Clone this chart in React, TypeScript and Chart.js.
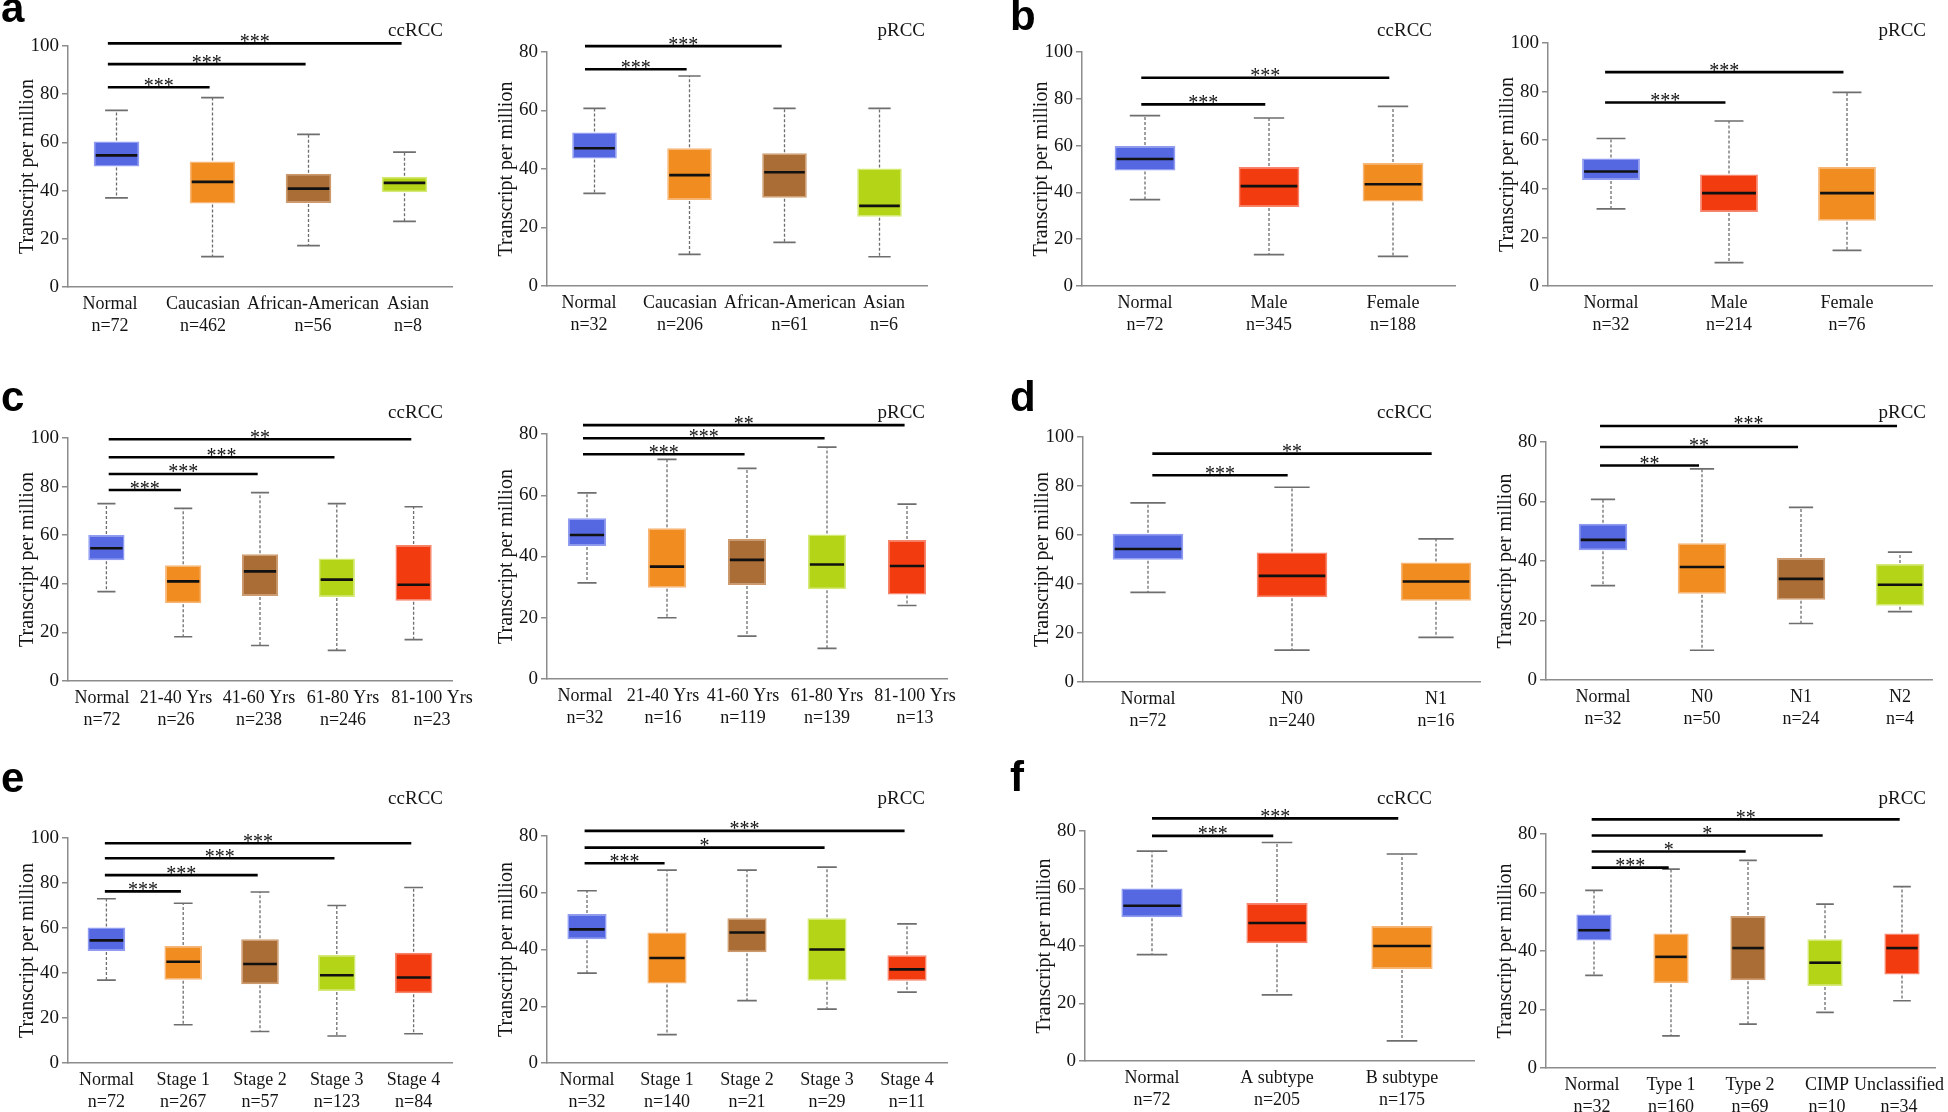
import React, { useEffect, useRef } from "react";
import { Chart, registerables } from "chart.js";
Chart.register(...registerables);

const SERIF = "'Liberation Serif', 'Times New Roman', Times, serif";
const SANS = "'Liberation Sans', Arial, Helvetica, sans-serif";
const AXIS = "#8c8c8c";
const INK = "#141414";
Chart.defaults.font.family = SERIF;

const FILL: any = { blue: "#5568e2", orange: "#f08c20", brown: "#ab6d36", green: "#b3d417", red: "#f23b0f" };
const EDGE: any = { blue: "#909cf2", orange: "#f7b576", brown: "#cf9a6b", green: "#d4ea74", red: "#f8846c" };

// ---------- data: [lower whisker, Q1, median, Q3, upper whisker] ----------
// a: race
const raceCats = ["Normal", "Caucasian", "African-American", "Asian"];
const raceCcN = [72, 462, 56, 8];
const raceCcBoxes = [[37, 50, 54.6, 60.4, 73.3], [12.6, 34.6, 43.6, 52.1, 78.6], [17.2, 34.9, 40.8, 47, 63.3], [27.2, 39.3, 43.2, 45.7, 56]];
const raceCcSig: [number, string][] = [[3, "***"], [2, "***"], [1, "***"]];
const racePN = [32, 206, 61, 6];
const racePBoxes = [[31.7, 43.6, 47.1, 52.5, 60.7], [10.8, 29.4, 37.9, 47.1, 71.8], [14.9, 30.2, 38.9, 45.4, 60.7], [10, 23.7, 27.4, 40.2, 60.7]];
const racePSig: [number, string][] = [[2, "***"], [1, "***"]];

// b: gender
const sexCats = ["Normal", "Male", "Female"];
const sexCcN = [72, 345, 188];
const sexCcBoxes = [[36.9, 49.4, 54.3, 59.8, 72.8], [13.4, 33.8, 42.7, 50.9, 71.8], [12.7, 36.1, 43.5, 52.6, 76.8]];
const sexCcSig: [number, string][] = [[2, "***"], [1, "***"]];
const sexPN = [32, 214, 76];
const sexPBoxes = [[31.7, 43.6, 47.1, 52.5, 60.7], [9.6, 30.5, 38.2, 45.9, 67.9], [14.7, 26.9, 38.2, 49, 79.7]];
const sexPSig: [number, string][] = [[2, "***"], [1, "***"]];

// c: age
const ageCats = ["Normal", "21-40 Yrs", "41-60 Yrs", "61-80 Yrs", "81-100 Yrs"];
const ageCcN = [72, 26, 238, 246, 23];
const ageCcBoxes = [[36.8, 49.7, 54.6, 60.1, 73], [18.2, 32, 41, 47.6, 71], [14.6, 35, 45.1, 52.2, 77.5], [12.6, 34.6, 41.7, 50.4, 73], [17, 33, 39.6, 56, 71.7]];
const ageCcSig: [number, string][] = [[4, "**"], [3, "***"], [2, "***"], [1, "***"]];
const agePN = [32, 16, 119, 139, 13];
const agePBoxes = [[31.4, 43.4, 47, 52.5, 60.8], [20, 29.8, 36.7, 49.2, 71.7], [14, 30.7, 38.9, 45.7, 68.8], [10, 29.3, 37.4, 47.2, 75.7], [24, 27.6, 36.9, 45.4, 57.1]];
const agePSig: [number, string][] = [[4, "**"], [3, "***"], [2, "***"]];

// d: nodal metastasis
const nodeCcCats = ["Normal", "N0", "N1"];
const nodeCcN = [72, 240, 16];
const nodeCcBoxes = [[36.6, 49.9, 54.3, 60.5, 73.1], [13, 34.6, 43.3, 52.9, 79.5], [18.2, 33.2, 41, 48.8, 58.4]];
const nodeCcSig: [number, string][] = [[2, "**"], [1, "***"]];
const nodePCats = ["Normal", "N0", "N1", "N2"];
const nodePN = [32, 50, 24, 4];
const nodePBoxes = [[31.7, 43.6, 47.1, 52.5, 60.7], [10, 29, 38, 46, 71], [19, 27, 34, 41, 58], [23, 25, 32, 39, 43]];
const nodePSig: [number, string][] = [[3, "***"], [2, "**"], [1, "**"]];

// e: stage
const stageCats = ["Normal", "Stage 1", "Stage 2", "Stage 3", "Stage 4"];
const stageCcN = [72, 267, 57, 123, 84];
const stageCcBoxes = [[36.8, 49.8, 54.5, 60.2, 73], [17, 37, 45, 52, 71], [14, 35, 44, 55, 76], [12, 32, 39, 48, 70], [13, 31, 38, 49, 78]];
const stageCcSig: [number, string][] = [[4, "***"], [3, "***"], [2, "***"], [1, "***"]];
const stagePN = [32, 140, 21, 29, 11];
const stagePBoxes = [[31.7, 43.6, 47.1, 52.5, 60.7], [10, 28, 37, 46, 68], [22, 39, 46, 51, 68], [19, 29, 40, 51, 69], [25, 29, 33, 38, 49]];
const stagePSig: [number, string][] = [[4, "***"], [3, "*"], [1, "***"]];

// f: subtype
const subCcCats = ["Normal", "A subtype", "B subtype"];
const subCcN = [72, 205, 175];
const subCcBoxes = [[37, 50, 54, 60, 73], [23, 41, 48, 55, 76], [7, 32, 40, 47, 72]];
const subCcSig: [number, string][] = [[2, "***"], [1, "***"]];
const subPCats = ["Normal", "Type 1", "Type 2", "CIMP", "Unclassified"];
const subPN = [32, 160, 69, 10, 34];
const subPBoxes = [[31.7, 43.6, 47.1, 52.5, 60.7], [11, 29, 38, 46, 68], [15, 30, 41, 52, 71], [19, 28, 36, 44, 56], [23, 32, 41, 46, 62]];
const subPSig: [number, string][] = [[4, "**"], [3, "*"], [2, "*"], [1, "***"]];

// ---------- layout ----------
const YW = 68, XH = 62, PT = 40, PR = 50;

const PANELS: any[] = [
  { cats: raceCats, ns: raceCcN, boxes: raceCcBoxes, sig: raceCcSig, colors: ["blue", "orange", "brown", "green"], max: 100,
    L: { axisX: 68, axisEnd: 452, yTop: 46, y0: 287, c0: 116.5, dx: 96, sigY: [101.1, 92.5, 82.9], sigOff: -0.09, labelPx: [110, 203, 313, 408] }, tag: "ccRCC", tagRight: 443, tagBase: 36 },
  { cats: raceCats, ns: racePN, boxes: racePBoxes, sig: racePSig, colors: ["blue", "orange", "brown", "green"], max: 80,
    L: { axisX: 547, axisEnd: 927, yTop: 52, y0: 286, c0: 594.5, dx: 95, sigY: [82, 74.1], sigOff: -0.1, labelPx: [589, 680, 790, 884] }, tag: "pRCC", tagRight: 925, tagBase: 36 },
  { cats: sexCats, ns: sexCcN, boxes: sexCcBoxes, sig: sexCcSig, colors: ["blue", "red", "orange"], max: 100,
    L: { axisX: 1082, axisEnd: 1455, yTop: 52, y0: 286, c0: 1145, dx: 124, sigY: [89, 77.6], sigOff: -0.03 }, tag: "ccRCC", tagRight: 1432, tagBase: 36 },
  { cats: sexCats, ns: sexPN, boxes: sexPBoxes, sig: sexPSig, colors: ["blue", "red", "orange"], max: 100,
    L: { axisX: 1548, axisEnd: 1932, yTop: 43, y0: 286, c0: 1611, dx: 118, sigY: [88, 75.5], sigOff: -0.05 }, tag: "pRCC", tagRight: 1926, tagBase: 36 },

  { cats: ageCats, ns: ageCcN, boxes: ageCcBoxes, sig: ageCcSig, colors: ["blue", "orange", "brown", "green", "red"], max: 100,
    L: { axisX: 68, axisEnd: 452, yTop: 438, y0: 681, c0: 106.4, dx: 76.8, sigY: [99.5, 92.1, 85.2, 78.6], sigOff: 0.03, labelPx: [102, 176, 259, 343, 432] }, tag: "ccRCC", tagRight: 443, tagBase: 418 },
  { cats: ageCats, ns: agePN, boxes: agePBoxes, sig: agePSig, colors: ["blue", "orange", "brown", "green", "red"], max: 80,
    L: { axisX: 547, axisEnd: 947, yTop: 434, y0: 679, c0: 587, dx: 80, sigY: [82.9, 78.6, 73.4], sigOff: -0.05, labelPx: [585, 663, 743, 827, 915] }, tag: "pRCC", tagRight: 925, tagBase: 418 },
  { cats: nodeCcCats, ns: nodeCcN, boxes: nodeCcBoxes, sig: nodeCcSig, colors: ["blue", "red", "orange"], max: 100,
    L: { axisX: 1083, axisEnd: 1480, yTop: 437, y0: 682, c0: 1148, dx: 144, sigY: [93.2, 84.4], sigOff: 0.03 }, tag: "ccRCC", tagRight: 1432, tagBase: 418 },
  { cats: nodePCats, ns: nodePN, boxes: nodePBoxes, sig: nodePSig, colors: ["blue", "orange", "brown", "green"], max: 80,
    L: { axisX: 1546, axisEnd: 1932, yTop: 442, y0: 680, c0: 1603, dx: 99, sigY: [85.4, 78.3, 72.1], sigOff: -0.03 }, tag: "pRCC", tagRight: 1926, tagBase: 418 },

  { cats: stageCats, ns: stageCcN, boxes: stageCcBoxes, sig: stageCcSig, colors: ["blue", "orange", "brown", "green", "red"], max: 100,
    L: { axisX: 68, axisEnd: 452, yTop: 838, y0: 1063, c0: 106.4, dx: 76.8, sigY: [97.7, 91, 83.5, 76.3], sigOff: -0.02 }, tag: "ccRCC", tagRight: 443, tagBase: 804 },
  { cats: stageCats, ns: stagePN, boxes: stagePBoxes, sig: stagePSig, colors: ["blue", "orange", "brown", "green", "red"], max: 80,
    L: { axisX: 547, axisEnd: 947, yTop: 836, y0: 1063, c0: 587, dx: 80, sigY: [81.8, 75.9, 70.4], sigOff: -0.03 }, tag: "pRCC", tagRight: 925, tagBase: 804 },
  { cats: subCcCats, ns: subCcN, boxes: subCcBoxes, sig: subCcSig, colors: ["blue", "red", "orange"], max: 80,
    L: { axisX: 1085, axisEnd: 1474, yTop: 831, y0: 1061, c0: 1152, dx: 125, sigY: [84.4, 78.3], sigOff: 0 }, tag: "ccRCC", tagRight: 1432, tagBase: 804 },
  { cats: subPCats, ns: subPN, boxes: subPBoxes, sig: subPSig, colors: ["blue", "orange", "brown", "green", "red"], max: 80,
    L: { axisX: 1546, axisEnd: 1935, yTop: 834, y0: 1068, c0: 1594, dx: 77, sigY: [85, 79.5, 74, 68.5], sigOff: -0.03, labelPx: [1592, 1671, 1750, 1827, 1899] }, tag: "pRCC", tagRight: 1926, tagBase: 804 },
];

const LETTERS = [
  { t: "a", x: 1, base: 23 }, { t: "b", x: 1010, base: 31 },
  { t: "c", x: 1, base: 412 }, { t: "d", x: 1010, base: 412 },
  { t: "e", x: 1, base: 793 }, { t: "f", x: 1010, base: 792 },
];

function BoxPanel({ p, idx }: { p: any; idx: number }) {
  const ref = useRef<HTMLCanvasElement>(null);
  const L = p.L;
  const left = L.axisX - YW;
  const top = L.yTop - PT;
  const width = L.axisEnd - L.axisX + YW + PR;
  const height = L.y0 - L.yTop + PT + XH;

  useEffect(() => {
    const cats: string[] = p.cats;
    const xMin = (L.axisX - L.c0) / L.dx;
    const xMax = (L.axisEnd - L.c0) / L.dx;
    const labelVals = cats.map((_, i) => (L.labelPx ? (L.labelPx[i] - L.c0) / L.dx : i));
    const extras = {
      id: "boxExtras" + idx,
      afterDatasetsDraw(chart: any) {
        const ctx = chart.ctx;
        const xs = chart.scales.x;
        const ys = chart.scales.y;
        const meta = chart.getDatasetMeta(0);
        p.boxes.forEach((b: number[], i: number) => {
          const el = meta.data[i];
          const cx = el.x;
          const w = el.width;
          const [lo, q1, med, q3, hi] = b.map((v) => ys.getPixelForValue(v));
          ctx.save();
          ctx.strokeStyle = "#6e6e6e";
          ctx.lineWidth = 1.3;
          ctx.setLineDash([3, 2]);
          ctx.beginPath();
          ctx.moveTo(cx, q3 - 1); ctx.lineTo(cx, hi);
          ctx.moveTo(cx, q1 + 1); ctx.lineTo(cx, lo);
          ctx.stroke();
          ctx.setLineDash([]);
          ctx.lineWidth = 1.7;
          ctx.beginPath();
          ctx.moveTo(cx - w / 4, hi); ctx.lineTo(cx + w / 4, hi);
          ctx.moveTo(cx - w / 4, lo); ctx.lineTo(cx + w / 4, lo);
          ctx.stroke();
          ctx.strokeStyle = "#111";
          ctx.lineWidth = 2.6;
          ctx.beginPath();
          ctx.moveTo(cx - w / 2 + 2, med); ctx.lineTo(cx + w / 2 - 2, med);
          ctx.stroke();
          ctx.restore();
        });
        p.sig.forEach((s: [number, string], k: number) => {
          const y = ys.getPixelForValue(L.sigY[k]);
          const x0 = xs.getPixelForValue(L.sigOff);
          const x1 = xs.getPixelForValue(s[0] - 0.03);
          ctx.save();
          ctx.strokeStyle = "#000";
          ctx.lineWidth = 2.6;
          ctx.beginPath();
          ctx.moveTo(x0, y); ctx.lineTo(x1, y);
          ctx.stroke();
          ctx.fillStyle = "#111";
          ctx.font = "20px " + SERIF;
          ctx.textAlign = "center";
          ctx.textBaseline = "alphabetic";
          ctx.fillText(s[1], (x0 + x1) / 2, y + 4.5);
          ctx.restore();
        });
      },
    };

    const chart = new Chart(ref.current as HTMLCanvasElement, {
      type: "bar",
      data: {
        datasets: [
          {
            data: p.boxes.map((b: number[], i: number) => ({ x: i, y: [b[1], b[3]] })),
            backgroundColor: p.colors.map((c: string) => FILL[c]),
            borderColor: p.colors.map((c: string) => EDGE[c]),
            borderWidth: 1.5,
            borderSkipped: false,
            barPercentage: 0.49,
            categoryPercentage: 1,
          } as any,
        ],
      },
      options: {
        animation: false,
        responsive: false,
        events: [],
        layout: { padding: { top: PT, right: PR, left: 0, bottom: 0 } },
        plugins: { legend: { display: false }, tooltip: { enabled: false }, title: { display: false } },
        scales: {
          x: {
            type: "linear",
            min: xMin,
            max: xMax,
            offset: false,
            afterBuildTicks: (ax: any) => { ax.ticks = labelVals.map((v) => ({ value: v })); },
            afterFit: (ax: any) => { ax.height = XH; ax.paddingLeft = 0; ax.paddingRight = 0; },
            ticks: {
              autoSkip: false, maxRotation: 0, minRotation: 0, padding: 6, color: INK,
              font: { family: SERIF, size: 18, lineHeight: 1.25 },
              callback: (_v: any, i: number) => [cats[i], "n=" + p.ns[i]],
            },
            grid: { display: true, drawOnChartArea: false, drawTicks: false, offset: false, color: AXIS },
            border: { display: true, color: AXIS, width: 1.5 },
          },
          y: {
            type: "linear",
            min: 0,
            max: p.max,
            afterFit: (ax: any) => { ax.width = YW; ax.paddingTop = 0; ax.paddingBottom = 0; },
            ticks: { stepSize: 20, color: INK, padding: 3, font: { family: SERIF, size: 19 } },
            grid: { display: true, drawOnChartArea: false, drawTicks: true, tickLength: 6, color: AXIS, lineWidth: 1.5 },
            border: { display: true, color: AXIS, width: 1.5 },
            title: { display: true, text: "Transcript per million", color: INK, font: { family: SERIF, size: 20 }, padding: { top: 16, bottom: 0 } },
          },
        },
      } as any,
      plugins: [extras as any],
    });
    return () => chart.destroy();
  }, []);

  return (
    <canvas
      ref={ref}
      width={width}
      height={height}
      style={{ position: "absolute", left, top, width, height }}
    />
  );
}

export default function App() {
  return (
    <div style={{ position: "absolute", left: 0, top: 0, width: 1948, height: 1112, background: "#fff", overflow: "hidden" }}>
      {PANELS.map((p, i) => (
        <BoxPanel key={i} p={p} idx={i} />
      ))}
      {PANELS.map((p, i) => (
        <div
          key={"t" + i}
          style={{
            position: "absolute", left: p.tagRight - 200, width: 200, textAlign: "right",
            top: p.tagBase - 0.8375 * 19, fontFamily: SERIF, fontSize: 19, lineHeight: "19px", color: INK,
          }}
        >
          {p.tag}
        </div>
      ))}
      {LETTERS.map((l, i) => (
        <div
          key={"l" + i}
          style={{
            position: "absolute", left: l.x, top: l.base - 0.8465 * 42, fontFamily: SANS, fontWeight: 700,
            fontSize: 42, lineHeight: "42px", color: "#000",
          }}
        >
          {l.t}
        </div>
      ))}
    </div>
  );
}
